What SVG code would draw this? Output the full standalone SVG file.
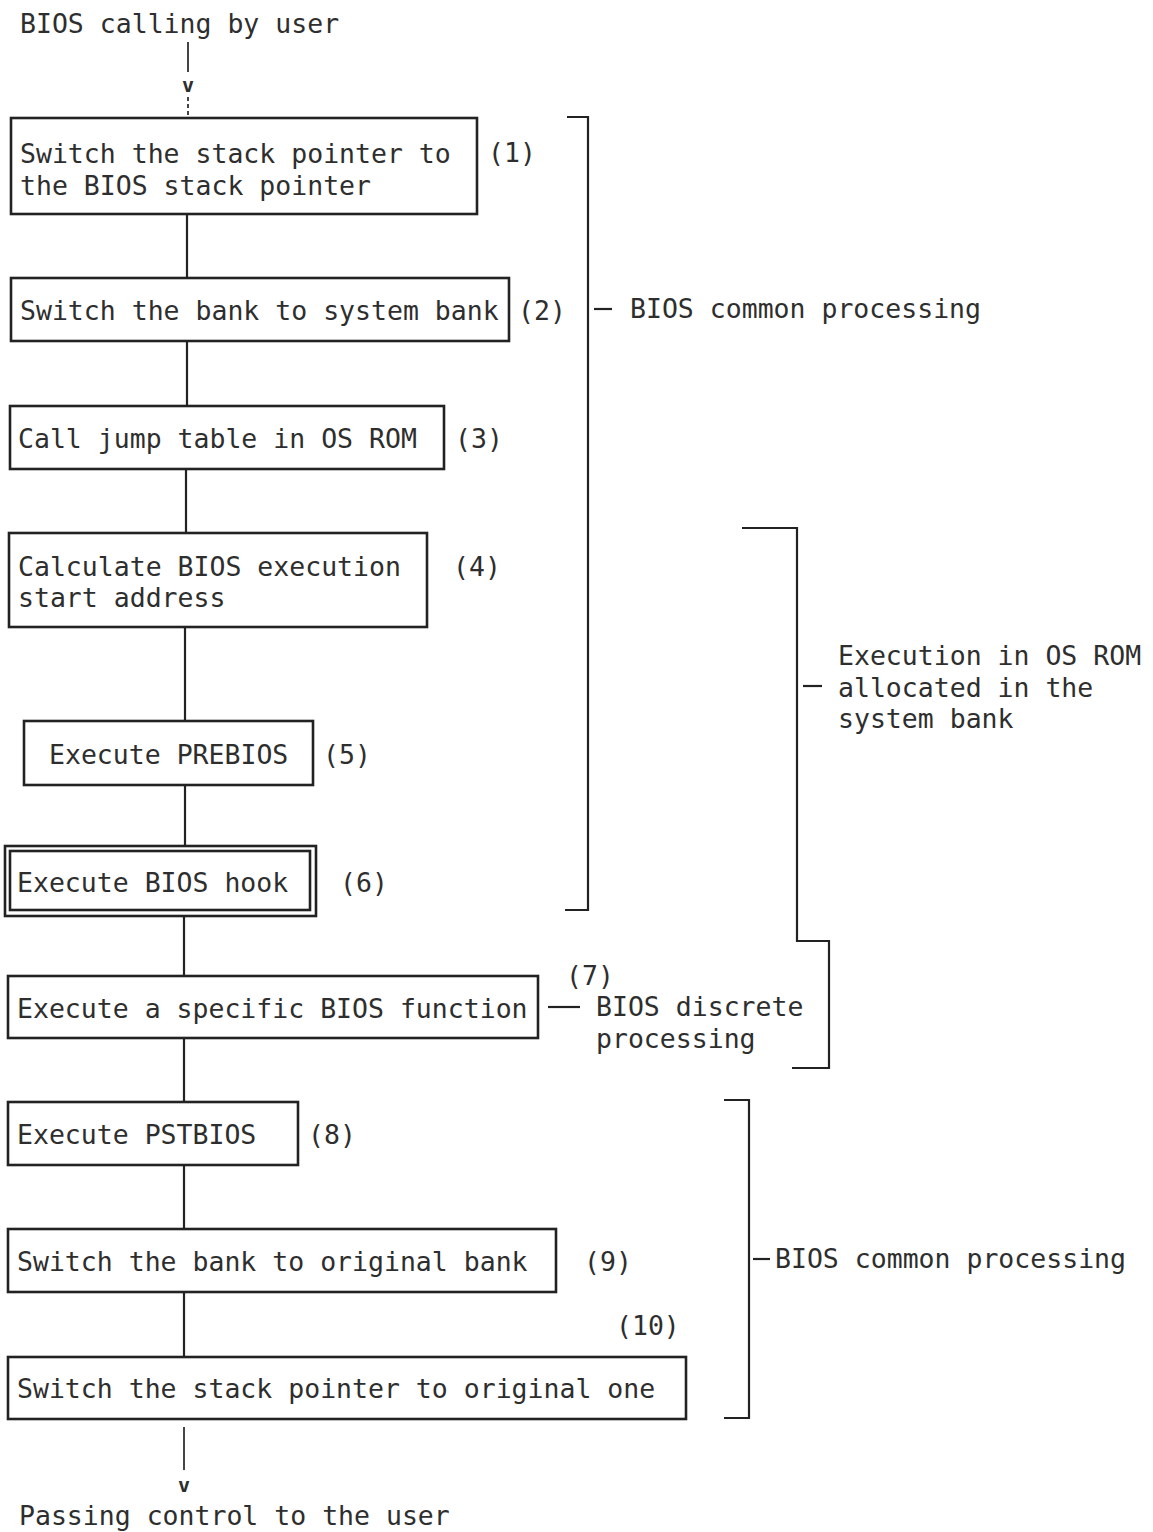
<svg xmlns="http://www.w3.org/2000/svg" width="1153" height="1532" viewBox="0 0 1153 1532">
  <style>
    .box { fill: #ffffff; stroke: #222222; stroke-width: 2.6; }
    .ln { fill: none; stroke: #222222; stroke-width: 2.2; }
    .lt { fill: none; stroke: #444444; stroke-width: 2; }
    text { font-family: "DejaVu Sans Mono", "Liberation Mono", monospace; font-size: 26.5px; fill: #2e2e2e; }
    .arrowv { font-size: 20px; font-weight: bold; text-anchor: middle; }
  </style>
  <rect width="1153" height="1532" fill="#ffffff"/>

  <!-- entry / exit labels -->
  <text x="20" y="33">BIOS calling by user</text>
  <text x="19" y="1525">Passing control to the user</text>

  <!-- flow connectors -->
  <g id="connectors">
    <line class="lt" x1="188" y1="42" x2="188" y2="72"/>
    <text class="arrowv" x="188" y="92">v</text>
    <line class="lt" x1="188" y1="97" x2="188" y2="117" stroke-dasharray="4 3"/>
    <line class="ln" x1="187" y1="214" x2="187" y2="278"/>
    <line class="ln" x1="187" y1="341" x2="187" y2="406"/>
    <line class="ln" x1="186" y1="469" x2="186" y2="533"/>
    <line class="ln" x1="185" y1="627" x2="185" y2="721"/>
    <line class="ln" x1="185" y1="785" x2="185" y2="846"/>
    <line class="ln" x1="184" y1="916" x2="184" y2="976"/>
    <line class="ln" x1="184" y1="1038" x2="184" y2="1102"/>
    <line class="ln" x1="184" y1="1165" x2="184" y2="1229"/>
    <line class="ln" x1="184" y1="1292" x2="184" y2="1357"/>
    <line class="lt" x1="184" y1="1427" x2="184" y2="1470"/>
    <text class="arrowv" x="184" y="1492">v</text>
  </g>

  <!-- process steps -->
  <g id="step1">
    <rect class="box" x="11" y="118" width="466" height="96"/>
    <text x="20" y="163">Switch the stack pointer to</text>
    <text x="20" y="195">the BIOS stack pointer</text>
    <text x="488" y="162">(1)</text>
  </g>
  <g id="step2">
    <rect class="box" x="11" y="278" width="498" height="63"/>
    <text x="20" y="320">Switch the bank to system bank</text>
    <text x="518" y="320">(2)</text>
  </g>
  <g id="step3">
    <rect class="box" x="10" y="406" width="434" height="63"/>
    <text x="18" y="448">Call jump table in OS ROM</text>
    <text x="455" y="448">(3)</text>
  </g>
  <g id="step4">
    <rect class="box" x="9" y="533" width="418" height="94"/>
    <text x="18" y="576">Calculate BIOS execution</text>
    <text x="18" y="607">start address</text>
    <text x="453" y="576">(4)</text>
  </g>
  <g id="step5">
    <rect class="box" x="24" y="721" width="289" height="64"/>
    <text x="49" y="764">Execute PREBIOS</text>
    <text x="323" y="764">(5)</text>
  </g>
  <g id="step6">
    <rect class="box" x="5" y="846" width="311" height="70"/>
    <rect class="box" x="10" y="851" width="300" height="59" stroke-width="2"/>
    <text x="17" y="892">Execute BIOS hook</text>
    <text x="340" y="892">(6)</text>
  </g>
  <g id="step7">
    <rect class="box" x="8" y="976" width="530" height="62"/>
    <text x="17" y="1018">Execute a specific BIOS function</text>
    <line class="ln" x1="548" y1="1007" x2="580" y2="1007"/>
    <text x="566" y="985">(7)</text>
    <text x="596" y="1016">BIOS discrete</text>
    <text x="596" y="1048">processing</text>
  </g>
  <g id="step8">
    <rect class="box" x="8" y="1102" width="290" height="63"/>
    <text x="17" y="1144">Execute PSTBIOS</text>
    <text x="308" y="1144">(8)</text>
  </g>
  <g id="step9">
    <rect class="box" x="8" y="1229" width="548" height="63"/>
    <text x="17" y="1271">Switch the bank to original bank</text>
    <text x="584" y="1271">(9)</text>
  </g>
  <g id="step10">
    <text x="616" y="1335">(10)</text>
    <rect class="box" x="8" y="1357" width="678" height="62"/>
    <text x="17" y="1398">Switch the stack pointer to original one</text>
  </g>

  <!-- grouping brackets -->
  <g id="bracket-common-top">
    <path class="ln" d="M567 117 H588 V910 H565"/>
    <line class="ln" x1="594" y1="309" x2="612" y2="309"/>
    <text x="630" y="318">BIOS common processing</text>
  </g>
  <g id="bracket-os-rom">
    <path class="ln" d="M742 528 H797 V941 H829 V1068 H792"/>
    <line class="ln" x1="803" y1="686" x2="822" y2="686"/>
    <text x="838" y="665">Execution in OS ROM</text>
    <text x="838" y="697">allocated in the</text>
    <text x="838" y="728">system bank</text>
  </g>
  <g id="bracket-common-bottom">
    <path class="ln" d="M724 1100 H749 V1418 H724"/>
    <line class="ln" x1="753" y1="1259" x2="770" y2="1259"/>
    <text x="775" y="1268">BIOS common processing</text>
  </g>
</svg>
